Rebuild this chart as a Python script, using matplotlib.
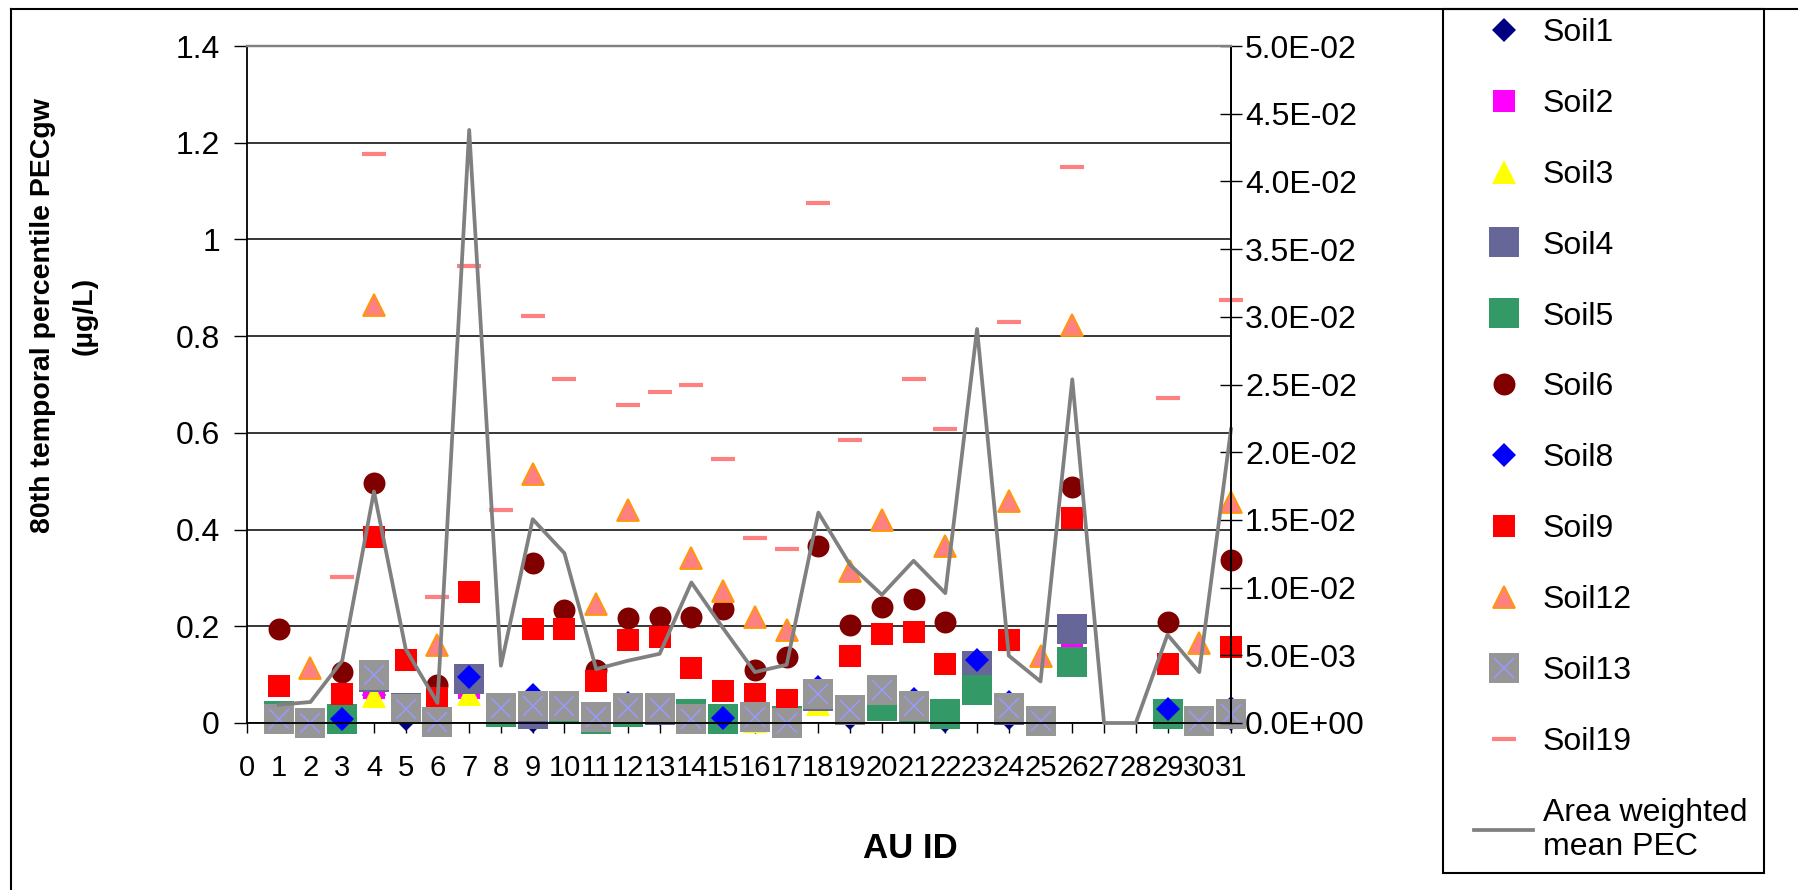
import numpy as np
import matplotlib
matplotlib.use("Agg")
import matplotlib.pyplot as plt
from matplotlib.lines import Line2D
from matplotlib.patches import Rectangle

plt.rcParams['font.family'] = ['Liberation Sans', 'DejaVu Sans']

# AU ID categories
au_id = list(range(1, 32))

# 80th temporal percentile PECgw per soil (ug/L), None = no value
#         1      2      3      4      5      6      7      8      9      10
soil1 = [None,  None,  None,  0.058, 0.008, None,  None,  None,  0.005, None,
         None,  None,  0.018, None,  None,  None,  None,  None,  0.011, None,
         None,  0.005, None,  0.011, None,  None,  None,  None,  None,  None,
         0.0075]
soil2 = [None,  None,  None,  0.072, None,  None,  0.072, None,  None,  None,
         None,  None,  None,  None,  None,  None,  None,  None,  None,  None,
         None,  None,  None,  None,  None,  0.160, None,  None,  None,  None,
         None]
soil3 = [None,  None,  None,  0.055, None,  None,  0.059, None,  None,  None,
         None,  None,  None,  None,  None,  0.004, None,  0.040, None,  None,
         0.025, None,  None,  None,  None,  None,  None,  None,  None,  None,
         None]
soil4 = [None,  None,  None,  0.096, 0.031, None,  0.091, None,  0.019, None,
         None,  None,  0.027, None,  None,  None,  None,  0.056, None,  None,
         None,  None,  0.118, 0.027, None,  0.194, None,  None,  None,  None,
         0.019]
soil5 = [0.014, None,  0.008, None,  None,  None,  None,  0.023, None,  0.029,
         0.008, 0.023, None,  0.019, 0.008, None,  0.005, 0.061, None,  0.035,
         0.032, 0.019, 0.068, None,  None,  0.126, None,  None,  0.019, None,
         None]
soil6 = [0.194, None,  0.105, 0.496, None,  0.079, None,  None,  0.330, 0.234,
         0.109, 0.217, 0.220, 0.220, 0.236, 0.109, 0.136, 0.365, 0.203, 0.239,
         0.257, 0.208, None,  None,  None,  0.488, None,  None,  0.208, None,
         0.337]
soil8 = [None,  None,  0.008, None,  None,  None,  0.095, None,  0.058, None,
         None,  0.041, None,  None,  0.010, None,  None,  0.075, None,  None,
         0.049, None,  0.131, 0.044, None,  None,  None,  None,  0.028, None,
         0.032]
soil9 = [0.077, None,  0.059, 0.384, 0.131, 0.052, 0.271, None,  0.194, 0.194,
         0.086, 0.172, 0.177, 0.113, 0.067, 0.059, 0.048, None,  0.139, 0.185,
         0.189, 0.122, None,  0.171, None,  0.424, None,  None,  0.122, None,
         0.158]
soil12 = [None,  0.113, None,  0.865, None,  0.162, None,  None,  0.514, None,
          0.247, 0.441, None,  0.342, 0.274, 0.220, 0.193, None,  0.315, 0.419,
          None,  0.365, None,  0.459, 0.139, 0.824, None,  None,  None,  0.166,
          0.458]
soil13 = [0.009, 0.000, None,  0.099, 0.028, 0.003, None,  0.031, 0.035, 0.035,
          0.012, 0.031, 0.031, 0.008, None,  0.012, 0.001, 0.059, 0.027, 0.068,
          0.035, None,  None,  0.031, 0.005, None,  None,  None,  None,  0.005,
          0.019]
soil19 = [None,  None,  0.302, 1.176, None,  0.261, 0.946, 0.441, 0.842, 0.711,
          None,  0.658, 0.685, 0.698, 0.546, 0.383, 0.360, 1.076, 0.585, None,
          0.711, 0.608, None,  0.829, None,  1.149, None,  None,  0.672, None,
          0.874]

# area weighted mean PEC (secondary axis)
mean_pec = [0.00135, 0.00155, 0.0046, 0.0171, 0.00546, 0.00148, 0.0438, 0.00423,
            0.01505, 0.01254, 0.00398, 0.0046, 0.00511, 0.01038, 0.0070, 0.00376,
            0.0043, 0.01554, 0.01168, 0.00947, 0.01198, 0.00959, 0.0291, 0.00497,
            0.00307, 0.02538, 0.0, 0.0, 0.00652, 0.00376, 0.0217]

x_ticks = list(range(0, 32))
y_ticks = [0, 0.2, 0.4, 0.6, 0.8, 1.0, 1.2, 1.4]
y2_ticks = [i * 0.005 for i in range(11)]


def arr(v):
    return np.array([np.nan if a is None else a for a in v], dtype=float)


W, H = 1798, 890
fig = plt.figure(figsize=(W / 100, H / 100), dpi=100)
ax = fig.add_axes([247 / W, 1 - 723 / H, (1231 - 247) / W, (723 - 46) / H])

#(name, data, marker, face, size, edge, edgewidth)
series = [
    ("Soil1", soil1, "D", "#000080", 12.3, None, 0),
    ("Soil2", soil2, "s", "#FF00FF", 15.8, None, 0),
    ("Soil3", soil3, "^", "#FFFF00", 17.3, None, 0),
    ("Soil4", soil4, "s", "#666699", 20.9, None, 0),
    ("Soil5", soil5, "s", "#339966", 20.9, None, 0),
    ("Soil6", soil6, "o", "#800000", 15.8, None, 0),
    ("Soil8", soil8, "D", "#0000FF", 12.3, None, 0),
    ("Soil9", soil9, "s", "#FF0000", 15.8, None, 0),
    ("Soil12", soil12, "^", "#FF8080", 16.5, "#FF9900", 1.3),
]

handles = []
labels = []
for name, vals, mk, fc, ms, ec, ew in series:
    h, = ax.plot(au_id, arr(vals), linestyle="none", marker=mk, markersize=ms,
                 markerfacecolor=fc, markeredgecolor=ec if ec else fc,
                 markeredgewidth=ew, clip_on=False)
    handles.append(h)
    labels.append(name)

# Soil13: gray square with light blue cross
sq, = ax.plot(au_id, arr(soil13), linestyle="none", marker="s", markersize=20.9,
              markerfacecolor="#969696", markeredgewidth=0, clip_on=False)
cr, = ax.plot(au_id, arr(soil13), linestyle="none", marker="x", markersize=14,
              markeredgecolor="#9999FF", markeredgewidth=1.1, clip_on=False)
handles.append((sq, cr))
labels.append("Soil13")

h19, = ax.plot(au_id, arr(soil19), linestyle="none", marker="_", markersize=17,
               markeredgecolor="#FF8080", markeredgewidth=3, clip_on=False)
handles.append(h19)
labels.append("Soil19")

ax.set_xlim(0, 31)
ax.set_ylim(0, 1.4)
ax.set_xticks(x_ticks)
ax.set_xticklabels([str(t) for t in x_ticks])
ax.set_yticks(y_ticks)
ax.set_yticklabels(["0", "0.2", "0.4", "0.6", "0.8", "1", "1.2", "1.4"])
ax.set_axisbelow(True)
ax.yaxis.grid(True, color="black", linewidth=1.1)
ax.tick_params(axis="y", direction="out", length=9.5, width=1.0, labelsize=23, pad=10)
ax.tick_params(axis="x", direction="out", length=7, width=1.0, labelsize=21, pad=15)
for s in ["left", "bottom", "right"]:
    ax.spines[s].set_color("black")
    ax.spines[s].set_linewidth(1.3)
ax.spines["top"].set_color("#808080")
ax.spines["top"].set_linewidth(1.6)

ax2 = ax.twinx()
lm, = ax2.plot(au_id, mean_pec, color="#808080", linewidth=2.7, clip_on=False)
handles.append(lm)
labels.append("Area weighted\nmean PEC")
ax2.set_ylim(0, 0.05)
ax2.set_yticks(y2_ticks)
ax2.set_yticklabels(["{:.1E}".format(v) for v in y2_ticks])
ax2.tick_params(axis="y", direction="inout", length=16, width=1.0, labelsize=23, pad=2)
for s in ["left", "bottom"]:
    ax2.spines[s].set_visible(False)
ax2.spines["top"].set_color("#808080")
ax2.spines["top"].set_linewidth(1.6)
ax2.spines["right"].set_color("black")
ax2.spines["right"].set_linewidth(1.3)

fig.text(64 / W, 1 - 316 / H, "80th temporal percentile PECgw\n(\u00b5g/L)",
         rotation=90, ha="center", va="center", multialignment="center",
         fontsize=20.5, fontweight="bold", linespacing=1.75)
fig.text(910 / W, 1 - 848 / H, "AU ID", ha="center", va="center",
         fontsize=25, fontweight="bold")

# outer chart frame (left and top edges visible)
fig.add_artist(Line2D([11 / W, 11 / W], [0, 1 - 9 / H], color="black", lw=1.5,
                      transform=fig.transFigure))
fig.add_artist(Line2D([11 / W, 1], [1 - 9 / H, 1 - 9 / H], color="black", lw=1.5,
                      transform=fig.transFigure))
fig.add_artist(Rectangle((1443 / W, 1 - 873 / H), (1764 - 1443) / W, (873 - 9) / H,
                         fill=False, edgecolor="black", lw=1.5,
                         transform=fig.transFigure))

fig.legend(handles, labels, loc="upper left", bbox_to_anchor=(1474 / W, 1 - 18 / H),
           bbox_transform=fig.transFigure, frameon=False, fontsize=23,
           handlelength=1.85, handletextpad=0.3, labelspacing=1.28,
           borderpad=0, borderaxespad=0, numpoints=1)

fig.savefig("out.png", dpi=100)
